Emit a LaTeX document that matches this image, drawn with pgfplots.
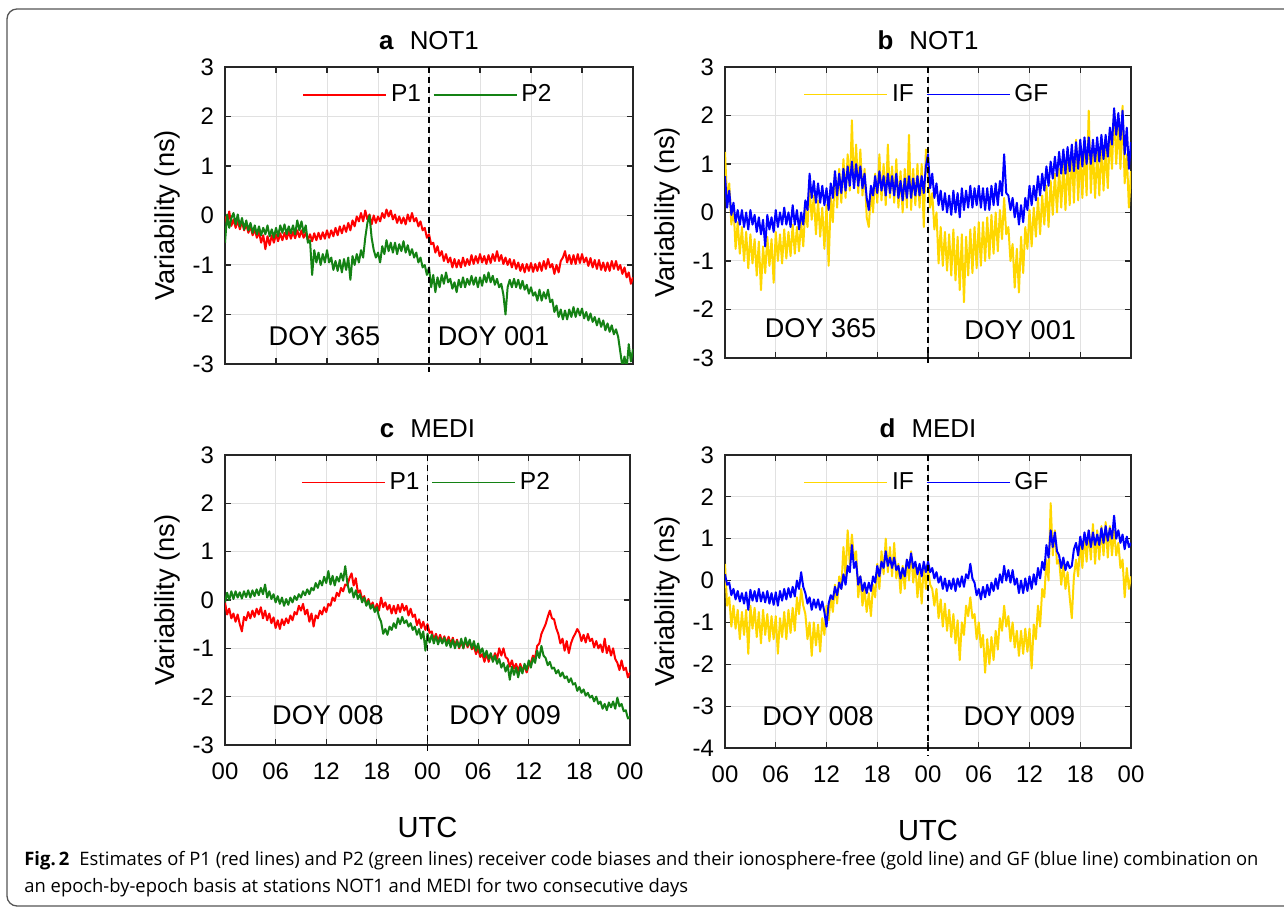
\documentclass[border=0pt]{standalone}
\usepackage{graphicx}
\usepackage{pgfplots}
\pgfplotsset{compat=1.18}
\usepackage{pgfplotstable}
\usepackage{fontspec}
\setmainfont{Liberation Sans}
\newfontfamily\capfont{Open Sans}

\definecolor{mred}{RGB}{255,0,0}
\definecolor{mgreen}{RGB}{20,130,20}
\definecolor{mgold}{RGB}{255,215,0}
\definecolor{mblue}{RGB}{0,0,255}
\definecolor{gridc}{RGB}{225,225,225}
\definecolor{axc}{RGB}{38,38,38}
\definecolor{framec}{RGB}{85,85,85}
\definecolor{captxt}{RGB}{35,31,32}

\newsavebox\capboxA
\newsavebox\capboxB
\newcommand\capone{\textbf{Fig.\,2}\hspace{0.55em}Estimates of P1 (red lines) and P2 (green lines) receiver code biases and their ionosphere-free (gold line) and GF (blue line) combination on}
\newcommand\captwo{an epoch-by-epoch basis at stations NOT1 and MEDI for two consecutive days}
\newcommand\capsize{\fontsize{9.3}{11}\selectfont}

% NOT1, code biases P1 / P2 (ns), 15-min epochs from 00 UTC DOY 365
\pgfplotstableread[row sep=\\]{p1 p2\\
-0.02 -0.55\\ -0.18 0.02\\ 0.08 -0.25\\ -0.21 -0.05\\
-0.08 0.05\\ -0.25 -0.18\\ -0.10 0.02\\ -0.28 -0.22\\
-0.12 -0.05\\ -0.30 -0.28\\ -0.18 -0.10\\ -0.35 -0.30\\
-0.22 -0.15\\ -0.40 -0.35\\ -0.28 -0.20\\ -0.45 -0.38\\
-0.32 -0.22\\ -0.55 -0.40\\ -0.40 -0.25\\ -0.68 -0.38\\
-0.42 -0.20\\ -0.60 -0.42\\ -0.40 -0.28\\ -0.55 -0.45\\
-0.38 -0.25\\ -0.52 -0.42\\ -0.36 -0.20\\ -0.50 -0.35\\
-0.35 -0.18\\ -0.48 -0.38\\ -0.32 -0.22\\ -0.47 -0.36\\
-0.33 -0.20\\ -0.46 -0.38\\ -0.30 -0.10\\ -0.44 -0.30\\
-0.30 -0.12\\ -0.45 -0.35\\ -0.35 -0.20\\ -0.50 -0.55\\
-0.38 -0.50\\ -0.52 -1.20\\ -0.36 -0.70\\ -0.50 -0.95\\
-0.35 -0.75\\ -0.48 -1.00\\ -0.34 -0.78\\ -0.47 -0.95\\
-0.30 -0.70\\ -0.45 -0.95\\ -0.30 -0.85\\ -0.42 -1.10\\
-0.25 -0.92\\ -0.40 -1.12\\ -0.22 -0.90\\ -0.36 -1.15\\
-0.20 -0.88\\ -0.33 -1.10\\ -0.15 -0.85\\ -0.30 -1.30\\
-0.10 -0.82\\ -0.22 -1.00\\ -0.02 -0.78\\ -0.12 -0.95\\
0.05 -0.70\\ -0.12 -0.85\\ 0.10 -0.45\\ -0.08 -0.15\\
0.02 0.00\\ -0.18 -0.45\\ 0.00 -0.70\\ -0.15 -0.85\\
-0.02 -0.75\\ -0.12 -0.95\\ 0.05 -0.62\\ -0.05 -0.78\\
0.12 -0.50\\ -0.02 -0.72\\ 0.10 -0.55\\ -0.08 -0.75\\
0.02 -0.55\\ -0.15 -0.78\\ -0.02 -0.58\\ -0.16 -0.72\\
-0.04 -0.52\\ -0.18 -0.75\\ 0.02 -0.60\\ -0.12 -0.80\\
0.05 -0.68\\ -0.12 -0.85\\ -0.05 -0.75\\ -0.22 -0.95\\
-0.12 -0.85\\ -0.30 -1.05\\ -0.25 -1.00\\ -0.45 -1.20\\
-0.38 -1.05\\ -0.58 -1.45\\ -0.55 -1.20\\ -0.75 -1.55\\
-0.62 -1.25\\ -0.82 -1.45\\ -0.72 -1.20\\ -0.92 -1.38\\
-0.78 -1.15\\ -0.95 -1.35\\ -0.85 -1.28\\ -1.05 -1.48\\
-0.88 -1.35\\ -1.05 -1.55\\ -0.90 -1.30\\ -1.05 -1.45\\
-0.85 -1.25\\ -1.02 -1.45\\ -0.88 -1.28\\ -1.00 -1.40\\
-0.80 -1.22\\ -0.98 -1.40\\ -0.82 -1.25\\ -0.96 -1.45\\
-0.78 -1.25\\ -0.95 -1.42\\ -0.82 -1.20\\ -0.98 -1.35\\
-0.80 -1.15\\ -0.96 -1.35\\ -0.78 -1.22\\ -0.92 -1.40\\
-0.72 -1.28\\ -0.92 -1.45\\ -0.80 -1.38\\ -0.98 -1.60\\
-0.85 -2.00\\ -1.00 -1.45\\ -0.88 -1.30\\ -1.05 -1.45\\
-0.90 -1.28\\ -1.08 -1.45\\ -0.95 -1.30\\ -1.12 -1.48\\
-0.98 -1.32\\ -1.15 -1.50\\ -0.98 -1.40\\ -1.12 -1.58\\
-0.96 -1.45\\ -1.14 -1.62\\ -0.98 -1.55\\ -1.12 -1.72\\
-0.95 -1.50\\ -1.12 -1.72\\ -0.92 -1.55\\ -1.08 -1.68\\
-0.88 -1.50\\ -1.05 -1.75\\ -0.98 -1.70\\ -1.18 -1.95\\
-1.00 -1.82\\ -1.15 -2.05\\ -0.92 -1.90\\ -0.85 -2.10\\
-0.72 -1.92\\ -0.95 -2.10\\ -0.80 -1.90\\ -0.98 -2.05\\
-0.80 -1.85\\ -0.98 -2.05\\ -0.78 -1.88\\ -0.96 -2.02\\
-0.78 -1.88\\ -0.95 -2.08\\ -0.85 -1.95\\ -1.02 -2.12\\
-0.86 -1.98\\ -1.05 -2.15\\ -0.90 -2.05\\ -1.08 -2.22\\
-0.90 -2.08\\ -1.10 -2.25\\ -0.95 -2.12\\ -1.12 -2.32\\
-0.95 -2.18\\ -1.12 -2.35\\ -0.92 -2.22\\ -1.08 -2.40\\
-0.92 -2.30\\ -1.10 -2.45\\ -1.00 -2.75\\ -1.18 -3.05\\
-1.05 -2.85\\ -1.25 -3.10\\ -1.15 -2.60\\ -1.38 -2.95\\
-1.25 -2.70\\
}\tabA

% NOT1, ionosphere-free / GF combination (ns)
\pgfplotstableread[row sep=\\]{if gf\\
1.25 0.75\\ 0.20 0.10\\ 0.60 0.45\\ -0.25 -0.05\\
0.15 0.20\\ -0.75 -0.20\\ -0.20 0.05\\ -0.85 -0.25\\
-0.30 0.05\\ -1.00 -0.30\\ -0.40 0.00\\ -1.15 -0.35\\
-0.45 0.05\\ -1.05 -0.25\\ -0.55 -0.05\\ -1.30 -0.40\\
-0.60 -0.10\\ -1.60 -0.45\\ -0.70 -0.15\\ -1.25 -0.70\\
-0.50 -0.05\\ -1.10 -0.35\\ -0.55 -0.10\\ -1.45 -0.40\\
-0.40 0.05\\ -1.00 -0.30\\ -0.45 0.00\\ -1.05 -0.25\\
-0.35 0.10\\ -0.95 -0.25\\ -0.40 0.00\\ -0.90 -0.30\\
-0.25 0.15\\ -0.85 -0.25\\ -0.30 0.05\\ -0.80 -0.35\\
-0.20 0.00\\ -0.70 -0.25\\ 0.10 0.25\\ -0.30 0.05\\
0.55 0.80\\ -0.15 0.30\\ 0.35 0.65\\ -0.45 0.20\\
0.25 0.60\\ -0.50 0.20\\ 0.10 0.55\\ -0.75 0.15\\
0.15 0.50\\ -1.10 0.05\\ 0.30 0.60\\ -0.20 0.30\\
0.85 0.85\\ 0.10 0.35\\ 0.90 0.80\\ 0.20 0.40\\
1.10 0.90\\ 0.30 0.45\\ 1.20 0.95\\ 0.45 0.55\\
1.90 1.05\\ 0.50 0.50\\ 1.40 1.00\\ 0.40 0.55\\
1.30 0.95\\ 0.35 0.50\\ 0.90 0.80\\ -0.10 0.30\\
-0.30 0.05\\ 0.45 0.55\\ 0.00 0.35\\ 0.80 0.75\\
0.20 0.40\\ 1.20 0.85\\ 0.25 0.45\\ 1.00 0.75\\
0.15 0.35\\ 1.40 0.80\\ 0.30 0.40\\ 0.95 0.75\\
0.20 0.35\\ 1.10 0.80\\ 0.10 0.30\\ 0.85 0.65\\
0.00 0.25\\ 0.90 0.70\\ 0.10 0.30\\ 1.60 0.75\\
0.05 0.30\\ 0.90 0.70\\ 0.15 0.35\\ 1.00 0.75\\
0.10 0.35\\ 1.00 0.75\\ -0.30 0.40\\ 1.30 0.95\\
0.80 1.20\\ 0.10 0.50\\ 0.40 0.80\\ -0.35 0.30\\
0.00 0.60\\ -1.05 0.15\\ -0.30 0.45\\ -1.10 0.05\\
-0.40 0.40\\ -1.20 0.00\\ -0.45 0.35\\ -1.30 -0.05\\
-0.35 0.45\\ -1.40 0.00\\ -0.50 0.40\\ -1.60 -0.10\\
-0.45 0.50\\ -1.85 0.05\\ -0.50 0.45\\ -1.30 0.10\\
-0.35 0.55\\ -1.25 0.10\\ -0.30 0.50\\ -1.15 0.15\\
-0.20 0.55\\ -1.10 0.10\\ -0.20 0.50\\ -1.00 0.05\\
-0.10 0.50\\ -0.95 0.05\\ -0.05 0.55\\ -0.85 0.15\\
0.00 0.60\\ -0.80 0.15\\ 0.05 0.65\\ -0.55 0.35\\
0.30 1.20\\ -0.45 0.40\\ -0.30 0.35\\ -1.00 0.05\\
-0.65 0.30\\ -1.55 -0.10\\ -0.75 0.20\\ -1.65 -0.25\\
-0.50 0.15\\ -1.25 -0.20\\ -0.30 0.30\\ -0.75 0.05\\
0.05 0.55\\ -0.70 0.15\\ 0.10 0.55\\ -0.50 0.25\\
0.30 0.75\\ -0.45 0.35\\ 0.35 0.80\\ -0.25 0.45\\
0.55 0.95\\ -0.30 0.55\\ 0.65 1.05\\ -0.05 0.70\\
0.80 1.15\\ 0.00 0.75\\ 0.90 1.25\\ 0.10 0.80\\
1.00 1.30\\ 0.05 0.80\\ 1.10 1.35\\ 0.15 0.85\\
1.30 1.40\\ 0.20 0.85\\ 1.50 1.45\\ 0.25 0.90\\
1.20 1.50\\ 0.30 0.95\\ 1.40 1.55\\ 0.35 1.00\\
2.10 1.55\\ 0.40 1.00\\ 1.30 1.50\\ 0.30 1.05\\
1.25 1.55\\ 0.35 1.05\\ 1.40 1.60\\ 0.45 1.10\\
1.35 1.60\\ 0.50 1.15\\ 1.60 1.75\\ 0.90 1.40\\
2.10 2.15\\ 1.00 1.60\\ 1.80 2.05\\ 0.90 1.50\\
2.20 2.10\\ 0.60 1.20\\ 1.20 1.75\\ 0.10 0.90\\
0.85 1.45\\
}\tabB

% MEDI, code biases P1 / P2 (ns), from 00 UTC DOY 008
\pgfplotstableread[row sep=\\]{p1 p2\\
-0.05 -0.05\\ -0.30 0.15\\ -0.18 0.00\\ -0.38 0.18\\
-0.28 0.02\\ -0.45 0.18\\ -0.30 0.05\\ -0.50 0.16\\
-0.65 0.03\\ -0.35 0.18\\ -0.42 0.06\\ -0.25 0.20\\
-0.38 0.05\\ -0.22 0.20\\ -0.35 0.08\\ -0.18 0.22\\
-0.30 0.10\\ -0.15 0.25\\ -0.38 0.12\\ -0.22 0.32\\
-0.42 0.05\\ -0.28 0.18\\ -0.48 0.02\\ -0.36 0.12\\
-0.58 -0.05\\ -0.42 0.08\\ -0.60 -0.08\\ -0.40 0.05\\
-0.52 -0.12\\ -0.38 0.02\\ -0.48 -0.10\\ -0.32 0.05\\
-0.42 -0.05\\ -0.25 0.08\\ -0.30 0.00\\ -0.12 0.12\\
-0.22 0.05\\ -0.08 0.18\\ -0.30 0.10\\ -0.20 0.22\\
-0.45 0.12\\ -0.28 0.25\\ -0.55 0.20\\ -0.32 0.35\\
-0.38 0.25\\ -0.22 0.40\\ -0.30 0.30\\ -0.15 0.48\\
-0.25 0.35\\ -0.08 0.60\\ -0.12 0.32\\ 0.05 0.50\\
-0.02 0.30\\ 0.15 0.48\\ 0.08 0.38\\ 0.25 0.55\\
0.18 0.40\\ 0.32 0.70\\ 0.30 0.35\\ 0.45 0.15\\
0.55 0.25\\ 0.30 0.05\\ 0.45 0.20\\ 0.15 0.02\\
0.20 0.12\\ 0.02 -0.05\\ 0.08 0.05\\ -0.10 -0.12\\
0.02 -0.02\\ -0.15 -0.18\\ -0.05 -0.10\\ -0.22 -0.25\\
-0.08 -0.15\\ -0.22 -0.35\\ 0.05 -0.45\\ -0.15 -0.70\\
-0.05 -0.60\\ -0.20 -0.72\\ -0.10 -0.55\\ -0.28 -0.62\\
-0.12 -0.48\\ -0.28 -0.58\\ -0.10 -0.38\\ -0.25 -0.50\\
-0.08 -0.35\\ -0.22 -0.48\\ -0.12 -0.42\\ -0.32 -0.55\\
-0.18 -0.48\\ -0.35 -0.62\\ -0.30 -0.55\\ -0.52 -0.72\\
-0.40 -0.60\\ -0.58 -0.80\\ -0.45 -0.65\\ -0.62 -1.05\\
-0.50 -0.70\\ -0.68 -0.88\\ -0.65 -0.72\\ -0.82 -0.90\\
-0.70 -0.75\\ -0.85 -0.92\\ -0.72 -0.78\\ -0.88 -0.90\\
-0.75 -0.78\\ -0.90 -0.95\\ -0.76 -0.82\\ -0.92 -0.98\\
-0.78 -0.82\\ -0.95 -1.00\\ -0.82 -0.85\\ -1.00 -0.98\\
-0.85 -0.80\\ -1.00 -1.00\\ -0.82 -0.78\\ -0.98 -0.95\\
-0.85 -0.82\\ -1.02 -1.00\\ -0.95 -0.85\\ -1.12 -1.05\\
-1.00 -0.90\\ -1.18 -1.10\\ -1.12 -1.00\\ -1.28 -1.18\\
-1.10 -1.05\\ -1.28 -1.22\\ -1.12 -1.10\\ -1.25 -1.28\\
-1.10 -1.15\\ -1.22 -1.32\\ -1.00 -1.22\\ -1.15 -1.40\\
-1.00 -1.30\\ -1.18 -1.48\\ -1.22 -1.35\\ -1.38 -1.65\\
-1.25 -1.38\\ -1.42 -1.55\\ -1.32 -1.40\\ -1.48 -1.60\\
-1.32 -1.38\\ -1.48 -1.52\\ -1.35 -1.32\\ -1.50 -1.45\\
-1.35 -1.25\\ -1.30 -1.40\\ -1.15 -1.20\\ -1.20 -1.30\\
-0.95 -1.05\\ -0.90 -1.20\\ -0.70 -0.95\\ -0.60 -1.15\\
-0.50 -1.20\\ -0.35 -1.35\\ -0.22 -1.28\\ -0.38 -1.42\\
-0.40 -1.40\\ -0.58 -1.52\\ -0.70 -1.45\\ -0.90 -1.58\\
-0.80 -1.50\\ -1.05 -1.62\\ -0.85 -1.58\\ -1.10 -1.70\\
-0.90 -1.62\\ -0.78 -1.75\\ -0.70 -1.72\\ -0.60 -1.88\\
-0.68 -1.80\\ -0.85 -1.92\\ -0.72 -1.85\\ -0.88 -1.98\\
-0.70 -1.92\\ -0.85 -2.02\\ -0.80 -1.98\\ -0.98 -2.10\\
-0.85 -2.00\\ -1.00 -2.15\\ -0.92 -2.10\\ -1.08 -2.25\\
-0.80 -2.15\\ -1.10 -2.28\\ -0.95 -2.12\\ -1.15 -2.22\\
-1.00 -2.10\\ -1.22 -2.25\\ -1.30 -2.02\\ -1.45 -2.20\\
-1.25 -2.15\\ -1.45 -2.30\\ -1.40 -2.28\\ -1.60 -2.45\\
-1.50 -2.42\\
}\tabC

% MEDI, ionosphere-free / GF combination (ns)
\pgfplotstableread[row sep=\\]{if gf\\
0.40 0.15\\ -0.60 -0.10\\ -0.40 -0.05\\ -1.10 -0.35\\
-0.60 -0.20\\ -1.15 -0.45\\ -0.70 -0.25\\ -1.40 -0.50\\
-0.75 -0.30\\ -1.30 -0.55\\ -0.70 -0.28\\ -1.75 -0.70\\
-0.60 -0.22\\ -1.15 -0.48\\ -0.65 -0.25\\ -1.35 -0.50\\
-0.75 -0.20\\ -1.50 -0.50\\ -0.70 -0.28\\ -1.30 -0.52\\
-0.80 -0.25\\ -1.45 -0.55\\ -0.85 -0.30\\ -1.40 -0.58\\
-0.85 -0.28\\ -1.75 -0.60\\ -0.90 -0.25\\ -1.35 -0.48\\
-0.75 -0.20\\ -1.40 -0.45\\ -0.70 -0.18\\ -1.25 -0.40\\
-0.65 -0.15\\ -1.20 -0.38\\ -0.40 0.00\\ -0.80 -0.20\\
-0.20 0.20\\ -0.60 -0.15\\ -0.80 -0.30\\ -1.40 -0.55\\
-1.00 -0.40\\ -1.80 -0.70\\ -1.00 -0.45\\ -1.55 -0.65\\
-1.05 -0.45\\ -1.70 -0.70\\ -0.90 -0.50\\ -1.30 -0.75\\
-0.60 -1.10\\ -0.95 -0.55\\ -0.40 -0.35\\ -0.75 -0.45\\
-0.10 -0.15\\ -0.55 -0.35\\ 0.10 -0.05\\ -0.20 -0.20\\
0.80 0.15\\ 0.10 -0.10\\ 1.20 0.35\\ 0.40 0.20\\
1.10 0.85\\ 0.50 0.30\\ 0.70 0.45\\ -0.40 -0.10\\
0.10 0.10\\ -0.60 -0.25\\ -0.20 -0.05\\ -0.75 -0.30\\
-0.30 -0.05\\ -0.85 -0.25\\ -0.10 0.10\\ -0.40 -0.05\\
0.40 0.35\\ -0.20 0.10\\ 0.70 0.45\\ 0.15 0.30\\
1.00 0.70\\ 0.20 0.35\\ 0.80 0.55\\ 0.10 0.30\\
0.90 0.55\\ 0.05 0.25\\ 0.40 0.35\\ -0.30 0.05\\
0.35 0.30\\ -0.20 0.10\\ 0.50 0.50\\ 0.00 0.30\\
0.70 0.65\\ -0.05 0.30\\ 0.40 0.45\\ -0.40 0.15\\
0.20 0.40\\ -0.55 0.10\\ 0.40 0.45\\ -0.20 0.20\\
0.30 0.45\\ -0.10 0.20\\ -0.20 0.30\\ -0.60 0.05\\
-0.20 0.20\\ -0.90 -0.05\\ -0.45 0.10\\ -1.10 -0.20\\
-0.55 0.05\\ -1.20 -0.25\\ -0.70 0.00\\ -1.35 -0.20\\
-0.80 0.05\\ -1.50 -0.25\\ -0.95 0.05\\ -1.90 -0.15\\
-1.00 0.10\\ -1.30 -0.15\\ -0.60 0.15\\ -0.85 0.05\\
-0.40 0.40\\ -0.90 0.05\\ -0.80 -0.05\\ -1.40 -0.35\\
-1.00 -0.20\\ -1.60 -0.45\\ -1.30 -0.15\\ -2.20 -0.40\\
-1.40 -0.10\\ -2.00 -0.35\\ -1.35 -0.05\\ -1.90 -0.25\\
-1.20 0.05\\ -1.65 -0.20\\ -0.90 0.15\\ -1.20 -0.05\\
-0.60 0.35\\ -1.10 0.00\\ -0.85 0.25\\ -1.45 -0.05\\
-1.00 0.25\\ -1.60 -0.10\\ -1.20 0.05\\ -1.80 -0.30\\
-1.20 0.00\\ -1.75 -0.30\\ -1.15 0.05\\ -1.70 -0.25\\
-1.15 0.10\\ -2.10 -0.20\\ -1.05 0.15\\ -1.40 -0.10\\
-0.60 0.30\\ -1.10 0.05\\ -0.20 0.45\\ -0.40 0.25\\
0.50 0.85\\ 0.00 0.55\\ 1.85 1.20\\ 0.60 0.80\\
1.20 1.15\\ 0.40 0.70\\ 0.50 0.60\\ -0.10 0.30\\
0.40 0.55\\ -0.20 0.25\\ 0.20 0.45\\ -0.40 0.30\\
-0.90 0.35\\ 0.10 0.75\\ 0.50 0.90\\ 0.10 0.60\\
0.95 1.05\\ 0.30 0.75\\ 1.10 1.15\\ 0.45 0.85\\
1.20 1.20\\ 0.50 0.80\\ 1.35 1.15\\ 0.40 0.85\\
1.20 1.10\\ 0.50 0.85\\ 1.30 1.25\\ 0.60 0.90\\
1.40 1.30\\ 0.55 0.95\\ 1.30 1.25\\ 0.60 1.00\\
1.20 1.55\\ 0.60 1.00\\ 0.90 1.20\\ 0.30 0.90\\
0.50 1.10\\ -0.40 0.75\\ 0.30 1.05\\ -0.20 0.80\\
0.10 0.90\\
}\tabD

\tikzset{
  doy/.style={font=\fontsize{13.6}{16}\selectfont, anchor=center},
  series/.style={line width=1bp, line join=round},
  daysep/.style={black, line width=0.6bp, dash pattern=on 3bp off 2bp},
}

\pgfplotsset{
  panel/.style={
    scale only axis,
    xmin=0, xmax=48, ymax=3,
    xtick={0,6,...,48},
    tick pos=both, tick align=inside,
    xticklabel pos=lower, yticklabel pos=left,
    major tick length=3bp,
    grid=major,
    major grid style={gridc, line width=0.5bp},
    axis line style={axc, line width=0.6bp},
    tick style={axc, line width=0.6bp},
    clip mode=individual,
    /pgf/number format/assume math mode=true,
    ticklabel style={font=\fontsize{12}{14}\selectfont, text=black},
    yticklabel style={xshift=-2bp},
    xticklabel style={yshift=-5.5bp},
    title style={font=\fontsize{13}{15}\selectfont, at={(axis description cs:0.5,1)}, anchor=base, yshift=2.6bp},
    ylabel={Variability (ns)},
    ylabel style={font=\fontsize{13.7}{16}\selectfont, at={([xshift=-29bp]axis description cs:0,0.5)}, anchor=center},
    xlabel style={font=\fontsize{14.6}{17}\selectfont, at={([yshift=-41bp]axis description cs:0.5,0)}, anchor=center},
    legend columns=2,
    legend style={at={(0.5,0.906)}, anchor=center, draw=none, fill=none,
      font=\fontsize{12.3}{14}\selectfont, inner sep=0pt,
      nodes={inner sep=2bp},
      /tikz/every even column/.append style={column sep=4bp}},
    legend image code/.code={\draw[##1, line width=0.7bp] (0bp,0bp) -- (41.5bp,0bp);},
  },
}

\begin{document}
\sbox\capboxA{\capfont\capsize\capone}%
\pgfmathsetmacro\capsx{619.31/\wd\capboxA}%
\sbox\capboxB{\capfont\capsize\captwo}%
\begin{tikzpicture}[x=1bp,y=1bp]
\useasboundingbox (0,0) rectangle (642,454);
% outer frame
\draw[framec, line width=0.65bp, rounded corners=5bp] (660,449.5) -- (3.5,449.5) -- (3.5,1) -- (660,1);

% (a) NOT1, P1/P2
\begin{axis}[panel, at={(112.5bp,272bp)}, anchor=south west, width=204bp, height=148.5bp,
  ymin=-3, ytick={-3,...,3}, yticklabels={-3,-2,-1,0,1,2,3}, xticklabel=\empty,
  title={\textbf{a}\hspace{8bp}NOT1}]
\addplot[series, mred] table[x expr=\coordindex/4, y=p1] {\tabA};
\addlegendentry{P1}
\addplot[series, mgreen] table[x expr=\coordindex/4, y=p2] {\tabA};
\addlegendentry{P2}
\draw[daysep] (axis cs:24,3) -- ([yshift=-4bp]axis cs:24,-3);
\node[doy] at (axis cs:11.7,-2.43) {DOY 365};
\node[doy] at (axis cs:31.6,-2.43) {DOY 001};
\end{axis}

% (b) NOT1, IF/GF
\begin{axis}[panel, at={(362.5bp,275bp)}, anchor=south west, width=203bp, height=145.5bp,
  ymin=-3, ytick={-3,...,3}, yticklabels={-3,-2,-1,0,1,2,3}, xticklabel=\empty,
  title={\textbf{b}\hspace{8bp}NOT1}]
\addplot[series, mgold] table[x expr=\coordindex/4, y=if] {\tabB};
\addlegendentry{IF}
\addplot[series, mblue] table[x expr=\coordindex/4, y=gf] {\tabB};
\addlegendentry{GF}
\draw[daysep] (axis cs:24,3) -- ([yshift=-4bp]axis cs:24,-3);
\node[doy] at (axis cs:11.3,-2.38) {DOY 365};
\node[doy] at (axis cs:34.9,-2.42) {DOY 001};
\end{axis}

% (c) MEDI, P1/P2
\begin{axis}[panel, at={(112.5bp,81.5bp)}, anchor=south west, width=202.5bp, height=145bp,
  ymin=-3, ytick={-3,...,3}, yticklabels={-3,-2,-1,0,1,2,3},
  xticklabels={00,06,12,18,00,06,12,18,00}, xlabel={UTC},
  title={\textbf{c}\hspace{8bp}MEDI}]
\addplot[series, mred] table[x expr=\coordindex/4, y=p1] {\tabC};
\addlegendentry{P1}
\addplot[series, mgreen] table[x expr=\coordindex/4, y=p2] {\tabC};
\addlegendentry{P2}
\draw[daysep] (axis cs:24,3) -- ([yshift=-4bp]axis cs:24,-3);
\node[doy] at (axis cs:12.2,-2.39) {DOY 008};
\node[doy] at (axis cs:33.2,-2.39) {DOY 009};
\end{axis}

% (d) MEDI, IF/GF
\begin{axis}[panel, at={(362.5bp,80bp)}, anchor=south west, width=203bp, height=146.5bp,
  ymin=-4, ytick={-4,...,3}, yticklabels={-4,-3,-2,-1,0,1,2,3},
  xticklabels={00,06,12,18,00,06,12,18,00}, xlabel={UTC},
  title={\textbf{d}\hspace{8bp}MEDI}]
\addplot[series, mgold] table[x expr=\coordindex/4, y=if] {\tabD};
\addlegendentry{IF}
\addplot[series, mblue] table[x expr=\coordindex/4, y=gf] {\tabD};
\addlegendentry{GF}
\draw[daysep] (axis cs:24,3) -- ([yshift=-4bp]axis cs:24,-4);
\node[doy] at (axis cs:11.0,-3.25) {DOY 008};
\node[doy] at (axis cs:34.8,-3.25) {DOY 009};
\end{axis}

% caption
\node[anchor=base west, inner sep=0pt, text=captxt] at (12,21)
  {\scalebox{\capsx}[1]{\usebox\capboxA}};
\node[anchor=base west, inner sep=0pt, text=captxt] at (12,7.5)
  {\scalebox{\capsx}[1]{\usebox\capboxB}};
\end{tikzpicture}
\end{document}
